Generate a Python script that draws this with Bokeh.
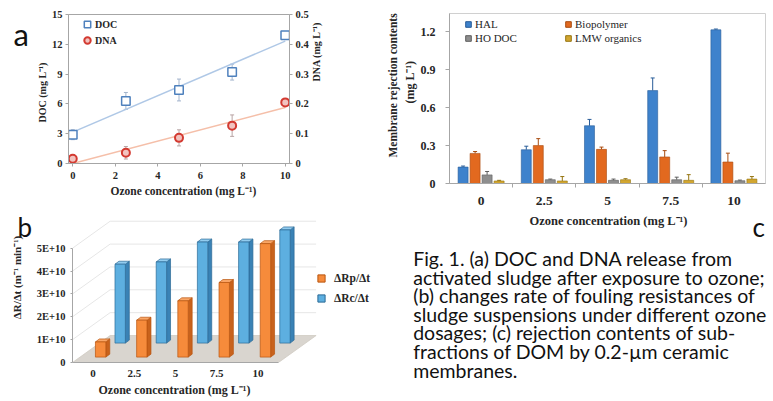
import math
import numpy as np
from bokeh.plotting import figure
from bokeh.layouts import row, column
from bokeh.models import (ColumnDataSource, Range1d, LinearAxis, Whisker, TeeHead,
                          Legend, LegendItem, FixedTicker, Title)
from bokeh.embed import file_html
from bokeh.resources import INLINE
from bokeh.core.properties import value

SERIF = "Liberation Serif"
SANS = "Lato"
AX = "#A6A6A6"
TXT = "#262626"

# ---------------- data ----------------
# (a) DOC and DNA release
ozone_a = [0, 2.5, 5, 7.5, 10]
doc = [2.9, 6.3, 7.4, 9.2, 12.9]
doc_err = [0.5, 0.85, 1.1, 0.8, 0.3]
dna = [0.016, 0.036, 0.086, 0.127, 0.205]
dna_err = [0.008, 0.021, 0.027, 0.036, 0.005]
a_x_ticks = [0, 2, 4, 6, 8, 10]
a_doc_ticks = [0, 3, 6, 9, 12, 15]
a_dna_ticks = [0, 0.1, 0.2, 0.3, 0.4, 0.5]

# (b) fouling resistance rates (x 1E+10 m-1 min-1)
ozone_cats = ["0", "2.5", "5", "7.5", "10"]
rp = [0.9, 1.85, 2.7, 3.5, 5.2]
rc = [4.3, 4.4, 5.27, 5.27, 5.8]
b_y_ticks = [0, 1, 2, 3, 4, 5]
b_y_labels = ["0", "1E+10", "2E+10", "3E+10", "4E+10", "5E+10"]

# (c) membrane rejection contents (mg L-1)
hal = [0.13, 0.267, 0.457, 0.735, 1.216]
hal_err = [0.008, 0.028, 0.05, 0.1, 0.006]
bio = [0.238, 0.30, 0.27, 0.21, 0.17]
bio_err = [0.015, 0.055, 0.018, 0.05, 0.07]
hodoc = [0.068, 0.03, 0.025, 0.03, 0.022]
hodoc_err = [0.027, 0.005, 0.01, 0.02, 0.005]
lmw = [0.02, 0.02, 0.03, 0.025, 0.035]
lmw_err = [0.005, 0.035, 0.008, 0.045, 0.02]
c_series = ["HAL", "Biopolymer", "HO DOC", "LMW organics"]
c_y_ticks = [0, 0.3, 0.6, 0.9, 1.2]

caption_lines = [
    "Fig. 1. (a) DOC and DNA release from",
    "activated sludge after exposure to ozone;",
    "(b) changes rate of fouling resistances of",
    "sludge suspensions under different ozone",
    "dosages; (c) rejection contents of sub-",
    "fractions of DOM by 0.2-\u00b5m ceramic",
    "membranes.",
]

OZ_TITLE = "Ozone concentration (mg L\u207b\u00b9)"


def style_axis(ax, size="10.5px", tick_out=3, standoff=3):
    ax.axis_line_color = AX
    ax.major_tick_line_color = AX
    ax.minor_tick_line_color = None
    ax.major_tick_out = tick_out
    ax.major_tick_in = 0
    ax.major_label_text_font = SERIF
    ax.major_label_text_font_style = "bold"
    ax.major_label_text_font_size = size
    ax.major_label_text_color = TXT
    ax.major_label_standoff = standoff


def side_title(p, text, side, offset, size="12px"):
    p.add_layout(Title(text=text, align="left", offset=offset, standoff=2,
                       text_font=SERIF, text_font_style="bold", text_font_size=size,
                       text_color=TXT), side)


def blank(fig):
    fig.xgrid.visible = False
    fig.ygrid.visible = False
    fig.outline_line_color = None


def strip(width, height, x0, x1, y_bottom, y_top, top, bottom):
    s = figure(width=width, height=height, x_range=Range1d(x0, x1),
               y_range=Range1d(y_bottom, y_top), output_backend="svg",
               toolbar_location=None, x_axis_location=None, y_axis_location=None,
               min_border_left=0, min_border_right=0, min_border_top=top,
               min_border_bottom=bottom)
    blank(s)
    return s


# ---------------- panel a (page x 30..380, y 0..200) ----------------
pa = figure(width=350, height=200, x_range=(-0.2, 10.2), y_range=(0, 15),
            output_backend="svg", toolbar_location=None,
            min_border_left=38, min_border_right=91, min_border_top=14, min_border_bottom=37)
pa.xgrid.visible = False
pa.ygrid.visible = False
pa.outline_line_color = AX
pa.extra_y_ranges = {"dna": Range1d(0, 0.5)}
ax_right = LinearAxis(y_range_name="dna", ticker=FixedTicker(ticks=a_dna_ticks))
pa.add_layout(ax_right, "right")
pa.xaxis.ticker = FixedTicker(ticks=a_x_ticks)
pa.yaxis[0].ticker = FixedTicker(ticks=a_doc_ticks)
for ax in [pa.xaxis[0], pa.yaxis[0], ax_right]:
    style_axis(ax)
pa.xaxis[0].major_label_standoff = 5
ax_right.major_label_overrides = {0: "0"}
ax_right.axis_label = "\u00a0\u00a0\u00a0DNA (mg L\u207b\u00b9)"
ax_right.axis_label_text_font = SERIF
ax_right.axis_label_text_font_style = "bold"
ax_right.axis_label_text_font_size = "10px"
ax_right.axis_label_text_color = TXT
ax_right.axis_label_standoff = 5
try:
    ax_right.axis_label_orientation = math.pi / 2
    ax_right.axis_label_text_align = "center"
except Exception:
    ax_right.axis_label_orientation = "vertical"

xfit = np.array([ozone_a[0], ozone_a[-1]], dtype=float)
k1, b1 = np.polyfit(ozone_a, doc, 1)
pa.line(xfit, k1 * xfit + b1, line_color="#AFC8E6", line_width=1.6)
k2, b2 = np.polyfit(ozone_a, dna, 1)
pa.line(xfit, k2 * xfit + b2, line_color="#F5BFA9", line_width=1.6, y_range_name="dna")

src_doc = ColumnDataSource(dict(x=ozone_a, y=doc,
                                up=[v + e for v, e in zip(doc, doc_err)],
                                lo=[v - e for v, e in zip(doc, doc_err)]))
src_dna = ColumnDataSource(dict(x=ozone_a, y=dna,
                                up=[v + e for v, e in zip(dna, dna_err)],
                                lo=[max(v - e, 0) for v, e in zip(dna, dna_err)]))
pa.add_layout(Whisker(source=src_doc, base="x", upper="up", lower="lo", line_color="#A3B4CC",
                      upper_head=TeeHead(size=4, line_color="#A3B4CC"),
                      lower_head=TeeHead(size=4, line_color="#A3B4CC"), level="underlay"))
pa.add_layout(Whisker(source=src_dna, base="x", upper="up", lower="lo", line_color="#B8A4A4",
                      upper_head=TeeHead(size=4, line_color="#B8A4A4"),
                      lower_head=TeeHead(size=4, line_color="#B8A4A4"), level="underlay",
                      y_range_name="dna"))
r_doc = pa.scatter("x", "y", source=src_doc, marker="square", size=8.5,
                   fill_color="white", line_color="#4F81BD", line_width=1.5)
r_dna = pa.scatter("x", "y", source=src_dna, marker="circle", size=8,
                   fill_color="#F2C3BF", line_color="#D33A31", line_width=2,
                   y_range_name="dna")
pa.add_layout(Legend(items=[LegendItem(label="DOC", renderers=[r_doc]),
                            LegendItem(label="DNA", renderers=[r_dna])],
                     location=(11, 115), margin=0, padding=2, spacing=0,
                     glyph_width=16, glyph_height=16, label_height=16, label_standoff=0,
                     background_fill_alpha=0, border_line_color=None,
                     label_text_font=SERIF, label_text_font_style="bold",
                     label_text_font_size="10px", label_text_color=TXT))
side_title(pa, "DOC (mg L\u207b\u00b9)", "left", 41, size="10px")
side_title(pa, OZ_TITLE, "below", 42, size="11.5px")

strip_a = strip(30, 200, 0, 30, 163, 14, 14, 37)
strip_a.text(x=[13], y=[33], text=["a"], text_font=value(SANS), text_font_size="31px",
             text_color="#111111", text_align="left", text_baseline="alphabetic")

# ---------------- panel b (page x 33..380, y 200..401) ----------------
n = len(ozone_cats)
DX, DY = 0.913, 1.18          # depth of the 3-D floor (x units, y units)
BW, SX, SY = 0.252, 0.096, 0.13
pb = figure(width=347, height=201, x_range=(-0.5, 6.976), y_range=(0, 7.087),
            output_backend="svg", toolbar_location=None,
            min_border_left=36, min_border_right=0, min_border_top=0, min_border_bottom=39)
blank(pb)
pb.patch([-0.5, n - 0.5, n - 0.5 + DX, -0.5 + DX], [0, 0, DY, DY],
         fill_color="#D9D5CF", line_color="#CFCAC2", line_width=0.8)
for k in b_y_ticks[1:]:
    pb.line([-0.5, -0.5 + DX, n - 0.5 + DX], [k, k + DY, k + DY],
            line_color="#E6E6E6", line_width=1)


def bar_row(vals, frac, front, side, top, edge):
    xc = np.arange(n) + frac * DX
    base = frac * DY
    l = xc - BW / 2
    r = xc + BW / 2
    t = np.array(vals, dtype=float)
    pb.patches([[ri, ri + SX, ri + SX, ri] for ri in r],
               [[base, base + SY, ti + SY, ti] for ti in t],
               fill_color=side, line_color=edge, line_width=0.7)
    pb.patches([[li, ri, ri + SX, li + SX] for li, ri in zip(l, r)],
               [[ti, ti, ti + SY, ti + SY] for ti in t],
               fill_color=top, line_color=edge, line_width=0.7)
    pb.quad(left=l, right=r, bottom=base, top=t, fill_color=front,
            line_color=edge, line_width=0.7)


bar_row(rc, 0.72, "#5DAFE0", "#3A82B5", "#92CCEF", "#2B6A96")
bar_row(rp, 0.20, "#F68B3B", "#C8621C", "#F9A667", "#B9550F")

pb.xaxis.ticker = FixedTicker(ticks=list(range(n)))
pb.xaxis.major_label_overrides = {i: c for i, c in enumerate(ozone_cats)}
pb.xaxis.bounds = (-0.5, n - 0.5)
pb.yaxis.ticker = FixedTicker(ticks=b_y_ticks)
pb.yaxis.major_label_overrides = {t: s for t, s in zip(b_y_ticks, b_y_labels)}
pb.yaxis.bounds = (0, 5)
style_axis(pb.xaxis[0], size="11px", tick_out=0, standoff=7)
style_axis(pb.yaxis[0], size="10.5px", tick_out=2, standoff=5)

OFF = [-100]
lb_p = pb.scatter(OFF, OFF, marker="square", size=7, fill_color="#F68B3B", line_color="#B9550F")
lb_c = pb.scatter(OFF, OFF, marker="square", size=7, fill_color="#5DAFE0", line_color="#2B6A96")
pb.add_layout(Legend(items=[LegendItem(label="\u0394Rp/\u0394t", renderers=[lb_p]),
                            LegendItem(label="\u0394Rc/\u0394t", renderers=[lb_c])],
                     location=(240, 55), margin=0, padding=2, spacing=2,
                     glyph_width=18, glyph_height=18, label_height=18, label_standoff=4,
                     background_fill_alpha=0, border_line_color=None,
                     label_text_font=SERIF, label_text_font_style="bold",
                     label_text_font_size="11.5px", label_text_color=TXT))
side_title(pb, OZ_TITLE, "below", 26, size="12px")

strip_b = strip(33, 201, 0, 33, 362, 200, 0, 39)
strip_b.text(x=[17], y=[226], text=["b"], text_font=value(SANS), text_font_size="26px",
             text_color="#111111", text_align="left", text_baseline="alphabetic")
strip_b.text(x=[16], y=[277], text=["\u0394R/\u0394t (m\u207b\u00b9 min\u207b\u00b9)"],
             angle=math.pi / 2, text_font=value(SERIF), text_font_style="bold",
             text_font_size="11px", text_color=TXT, text_align="center",
             text_baseline="middle")

# ---------------- panel c (page x 380..773, y 0..207) ----------------
pc = figure(width=393, height=207, x_range=(-0.5, 4.5), y_range=(0, 1.345),
            output_backend="svg", toolbar_location=None,
            min_border_left=69, min_border_right=8, min_border_top=13, min_border_bottom=24)
pc.xgrid.visible = False
pc.ygrid.visible = False
pc.outline_line_color = "#D0D0D0"
c_vals = [hal, bio, hodoc, lmw]
c_errs = [hal_err, bio_err, hodoc_err, lmw_err]
c_fill = ["#3E82CC", "#E2691F", "#8E8E8E", "#D2A630"]
c_edge = ["#285C98", "#A84C10", "#5E5E5E", "#967510"]
offsets = [-0.285, -0.095, 0.095, 0.285]
leg_items = []
for vals, errs, fc, ec, off, name in zip(c_vals, c_errs, c_fill, c_edge, offsets, c_series):
    xs = np.arange(n) + off
    src = ColumnDataSource(dict(x=xs, top=vals, up=[v + e for v, e in zip(vals, errs)]))
    pc.add_layout(Whisker(source=src, base="x", upper="up", lower="top", line_color=ec,
                          upper_head=TeeHead(size=4, line_color=ec), lower_head=None))
    pc.vbar(x="x", top="top", width=0.158, bottom=0, source=src,
            fill_color=fc, line_color=ec, line_width=0.6)
    dummy = pc.scatter(OFF, OFF, marker="square", size=6, fill_color=fc, line_color=ec)
    leg_items.append(LegendItem(label=name, renderers=[dummy]))
pc.add_layout(Legend(items=leg_items, location=(12, 138), margin=0, padding=2, spacing=0,
                     orientation="horizontal", ncols=2, label_width=86,
                     glyph_width=14, glyph_height=14, label_height=14, label_standoff=0,
                     background_fill_alpha=0, border_line_color=None,
                     label_text_font=SERIF, label_text_font_size="11px",
                     label_text_color=TXT))
pc.xaxis.ticker = FixedTicker(ticks=list(range(n)), minor_ticks=[0.5, 1.5, 2.5, 3.5])
pc.xaxis.major_label_overrides = {i: c for i, c in enumerate(ozone_cats)}
pc.yaxis.ticker = FixedTicker(ticks=c_y_ticks)
pc.yaxis.major_label_overrides = {0: "0"}
style_axis(pc.xaxis[0], size="13.5px", tick_out=0, standoff=9)
pc.xaxis.minor_tick_line_color = AX
pc.xaxis.minor_tick_out = 4
pc.xaxis.minor_tick_in = 0
style_axis(pc.yaxis[0], size="12px", tick_out=4, standoff=10)
side_title(pc, "(mg L\u207b\u00b9)", "left", 80, size="12px")
side_title(pc, "Membrane rejection contents", "left", 26, size="11.5px")

# ---------------- caption area (page x 380..773, y 207..401) ----------------
pcap = strip(393, 194, 380, 773, 401, 207, 0, 0)
pcap.text(x=[608], y=[220], text=[OZ_TITLE], text_font=value(SERIF),
          text_font_style="bold", text_font_size="12.5px", text_color=TXT,
          text_align="center", text_baseline="middle")
pcap.text(x=[752], y=[226], text=["c"], text_font=value(SANS), text_font_size="26px",
          text_color="#111111", text_align="left", text_baseline="alphabetic")
cap_y = [258 + 18.6 * i for i in range(len(caption_lines))]
pcap.text(x=[412.7] * len(caption_lines), y=cap_y, text=caption_lines,
          text_font=value(SANS), text_font_size="19.5px", text_color="#111111",
          text_align="left", text_baseline="alphabetic")

layout = row(column(row(strip_a, pa), row(strip_b, pb)),
             column(row(pc), row(pcap)))
open("out.html", "w").write(file_html(layout, INLINE))
